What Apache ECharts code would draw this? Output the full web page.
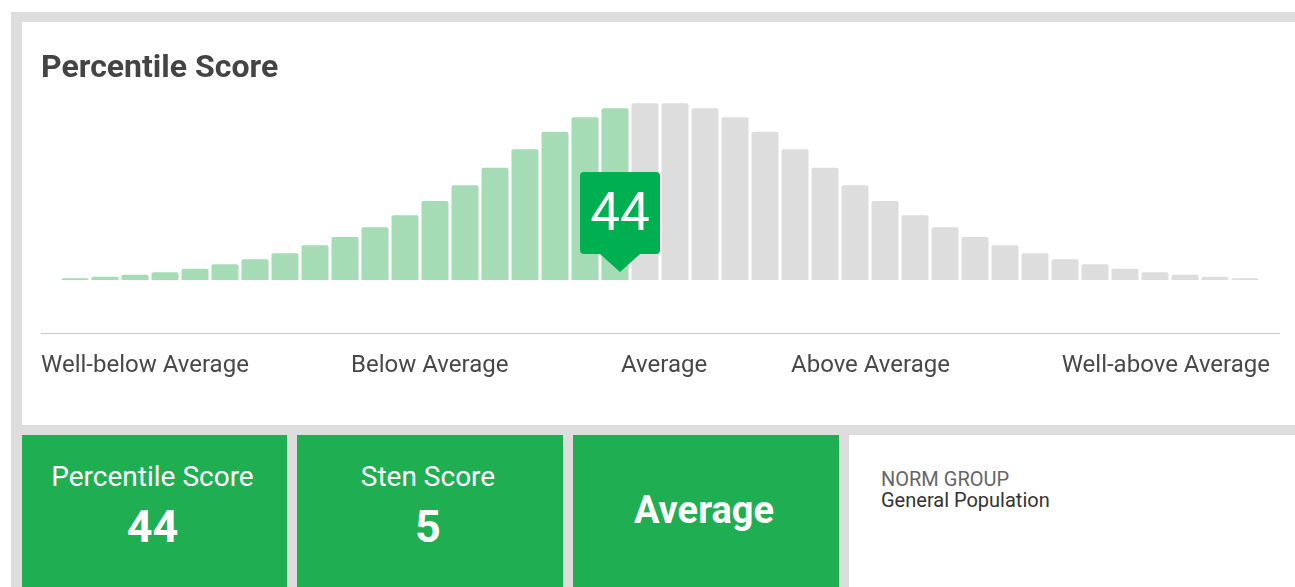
<!DOCTYPE html>
<html>
<head>
<meta charset="utf-8">
<script src="https://cdn.jsdelivr.net/npm/echarts@6/dist/echarts.min.js"></script>
<style>
  body { margin: 0; background: #fff; font-family: Roboto, "Noto Sans", sans-serif; overflow: hidden; }
  .bg { position: absolute; left: 11px; top: 12px; width: 1284px; height: 575px; background: #dcdddc; }
  .panel { position: absolute; left: 22px; top: 22px; width: 1273px; height: 403px; background: #fff; }
  .card { position: absolute; top: 435px; height: 152px; background: #20ae52; color: #fff; text-align: center; }
  .card div { position: absolute; left: 0; right: 4px; }
  .cap { font-size: 28px; line-height: 34px; top: 25px; }
  .num { font-size: 45px; font-weight: bold; line-height: 50px; top: 67px; }
  .big { font-size: 38px; font-weight: bold; line-height: 44px; top: 53px; }
  .norm { position: absolute; top: 435px; left: 849px; width: 446px; height: 152px; background: #fff; }
  .norm .k { position: absolute; left: 32px; top: 32px; font-size: 20px; line-height: 24px; color: #666; }
  .norm .v { position: absolute; left: 32px; top: 53px; font-size: 20px; line-height: 24px; color: #333; }
</style>
</head>
<body>
<div class="bg"></div>
<div class="panel" id="chart"></div>
<div class="card" style="left:22px;width:265px"><div class="cap">Percentile Score</div><div class="num">44</div></div>
<div class="card" style="left:297px;width:266px"><div class="cap">Sten Score</div><div class="num">5</div></div>
<div class="card" style="left:573px;width:266px"><div class="big">Average</div></div>
<div class="norm"><div class="k">NORM GROUP</div><div class="v">General Population</div></div>
<script>
// distribution bins (heights)
var bins = [];
for (var i = 0; i < 40; i++) bins.push(String(i));
var heights = [1.7, 3.3, 5.3, 7.7, 11.3, 15.7, 20.7, 26.7, 34.7, 43, 52.7, 64.7, 79, 94.7, 112.3, 130.7, 148.3, 162.7, 171.7, 176.7,
               176.7, 171.7, 162.7, 148.3, 130.7, 112.3, 94.7, 79, 64.7, 52.7, 43, 34.7, 26.7, 20.7, 15.7, 11.3, 7.7, 5.3, 3.3, 1.7];
var scoreBin = 18;      // last bin filled green
var percentile = 44;
var bandLabels = ['Well-below Average', 'Below Average', 'Average', 'Above Average', 'Well-above Average'];
var bandLeft = [19, 329, 599, 769, 1248];

var myChart = echarts.init(document.getElementById('chart'));

var barData = [];
for (var j = 0; j < heights.length; j++) {
  barData.push({
    value: heights[j],
    itemStyle: { color: j <= scoreBin ? '#a6dcb5' : '#dcdddc' }
  });
}

var graphics = [{
  type: 'line',
  shape: { x1: 19, y1: 311.5, x2: 1258, y2: 311.5 },
  style: { stroke: '#c4c4c4', lineWidth: 1 }
}];
for (var k = 0; k < bandLabels.length; k++) {
  graphics.push({
    type: 'text',
    x: bandLeft[k],
    y: 344,
    style: {
      text: bandLabels[k],
      fontSize: 24,
      fontFamily: 'Roboto',
      fill: '#484848',
      align: k === bandLabels.length - 1 ? 'right' : 'left',
      verticalAlign: 'middle'
    }
  });
}

var option = {
  animation: false,
  title: {
    text: 'Percentile Score',
    left: 19,
    top: 31,
    padding: 0,
    textStyle: { fontSize: 32, fontWeight: 'bold', color: '#444', fontFamily: 'Roboto', lineHeight: 32 }
  },
  grid: { left: 38, width: 1200, top: 78, height: 180 },
  xAxis: {
    type: 'category',
    data: bins,
    show: false
  },
  yAxis: {
    type: 'value',
    min: 0,
    max: 180,
    show: false
  },
  series: [{
    type: 'bar',
    data: barData,
    barWidth: 27,
    itemStyle: { borderRadius: [2, 2, 0, 0] },
    markPoint: {
      symbol: 'path://M4,0 H76 Q80,0 80,4 V78 Q80,82 76,82 H60 L40,100 L20,82 H4 Q0,82 0,78 V4 Q0,0 4,0 Z',
      symbolSize: [80, 100],
      symbolOffset: [5, '-50%'],
      itemStyle: { color: '#00b050' },
      label: {
        show: true,
        position: 'inside',
        offset: [0, -5],
        color: '#fff',
        fontSize: 53,
        fontFamily: 'Roboto',
        formatter: String(percentile)
      },
      data: [{ coord: [scoreBin, 8] }]
    }
  }],
  graphic: graphics
};
myChart.setOption(option);
</script>
</body>
</html>
